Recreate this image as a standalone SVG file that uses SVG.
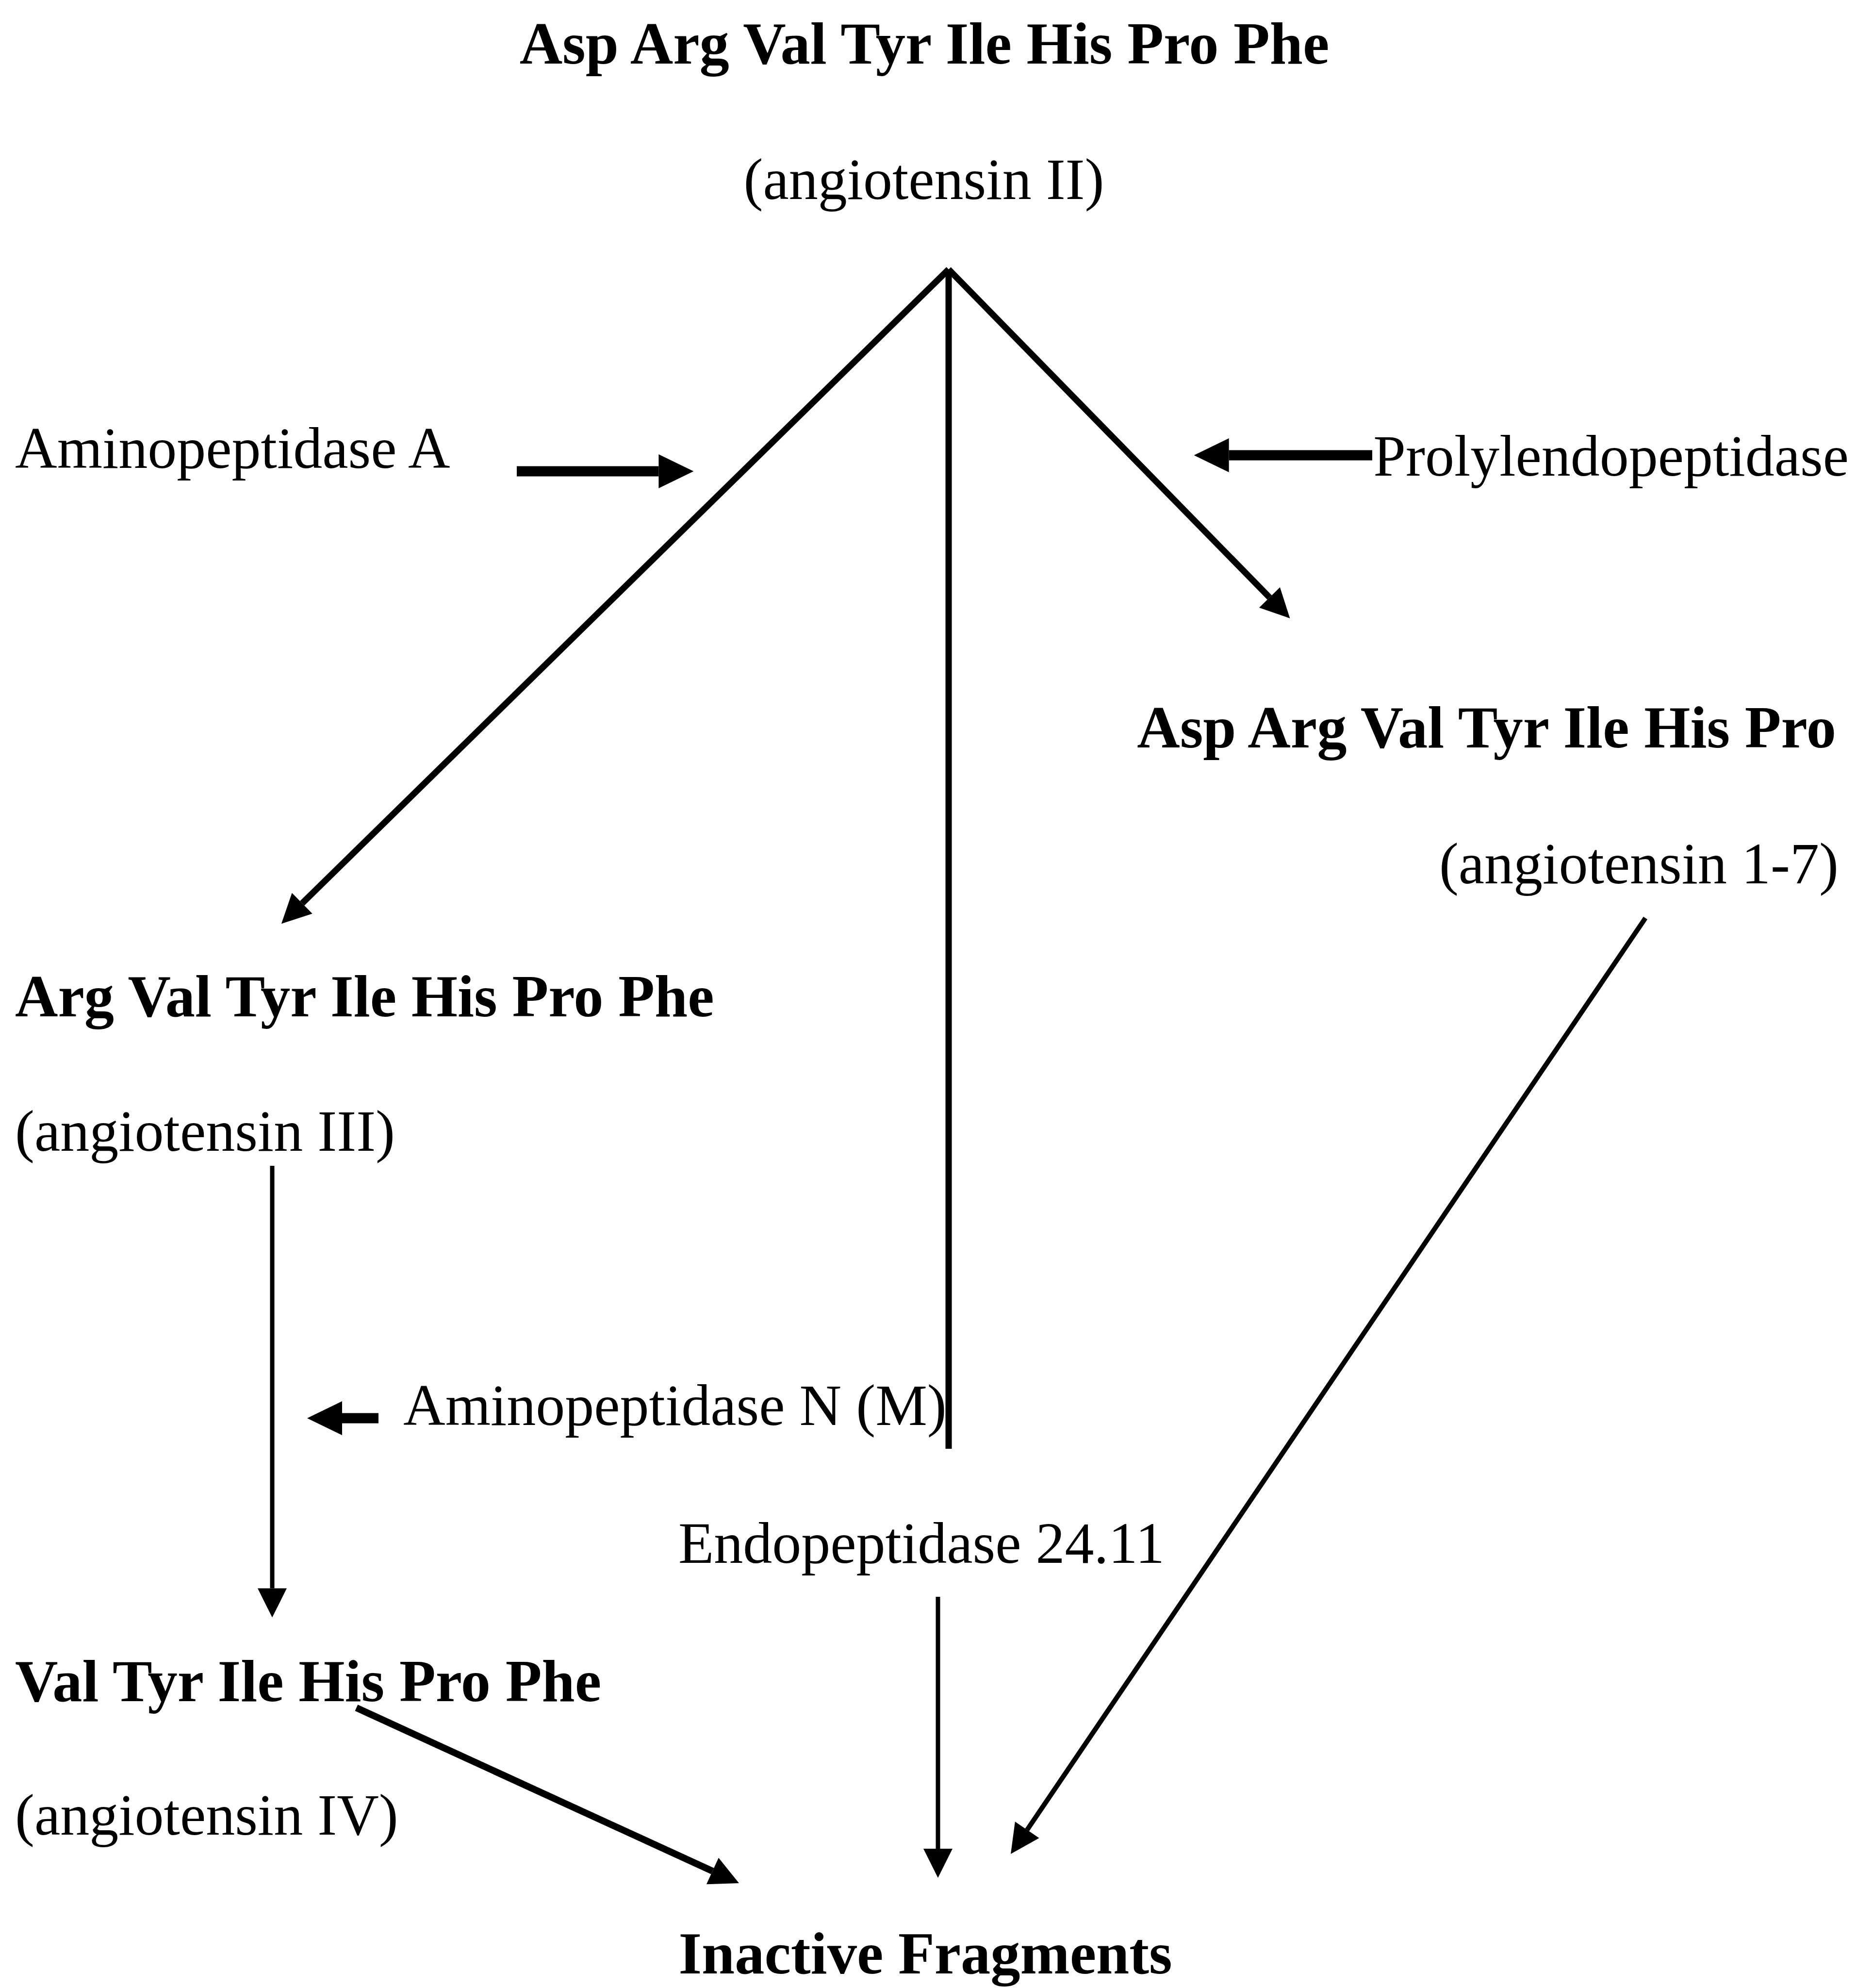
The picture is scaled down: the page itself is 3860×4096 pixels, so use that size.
<svg xmlns="http://www.w3.org/2000/svg" width="3860" height="4096" viewBox="0 0 3860 4096">
<style>
  text { font-family: "Liberation Serif", "Times New Roman", serif; font-size: 120px; fill: #000; }
  .b { font-weight: bold; font-size: 122.5px; }
  .ln { stroke: #000; fill: none; stroke-linecap: butt; }
  .thin { stroke-width: 9; }
  .mid { stroke-width: 13; }
  .thick { stroke-width: 21; }
</style>
<defs>
  <marker id="head" markerUnits="userSpaceOnUse" viewBox="0 -30 60 60" refX="0" refY="0" markerWidth="60" markerHeight="60" orient="auto" overflow="visible">
    <path d="M0,-30 L60,0 L0,30 Z" fill="#000"/>
  </marker>
  <marker id="headBig" markerUnits="userSpaceOnUse" viewBox="0 -35 72 70" refX="0" refY="0" markerWidth="72" markerHeight="70" orient="auto" overflow="visible">
    <path d="M0,-35 L72,0 L0,35 Z" fill="#000"/>
  </marker>
</defs>
<rect width="3860" height="4096" fill="#fff"/>

<g id="connectors">
  <!-- from angiotensin II apex -->
  <line class="ln mid" x1="1955" y1="555" x2="622.7" y2="1861.2" marker-end="url(#head)"/>
  <line class="ln mid" x1="1955" y1="555" x2="1955" y2="2985"/>
  <line class="ln mid" x1="1955" y1="555" x2="2616.4" y2="1231" marker-end="url(#head)"/>
  <!-- enzyme arrows -->
  <line class="ln thick" x1="1065" y1="971" x2="1357.4" y2="971" marker-end="url(#headBig)"/>
  <line class="ln thick" x1="2828" y1="938" x2="2532.6" y2="938" marker-end="url(#headBig)"/>
  <line class="ln thick" x1="780" y1="2922" x2="705" y2="2922" marker-end="url(#headBig)"/>
  <!-- angiotensin III to IV -->
  <line class="ln thin" x1="561" y1="2402" x2="561" y2="3272.6" marker-end="url(#head)"/>
  <!-- to inactive fragments -->
  <line class="ln thin" x1="1933" y1="3290" x2="1933" y2="3809" marker-end="url(#head)"/>
  <line class="ln" stroke-width="14" x1="734.5" y1="3518.7" x2="1468.4" y2="3855.1" marker-end="url(#head)"/>
  <line class="ln" stroke-width="10" x1="3391" y1="1891.5" x2="2116.7" y2="3770.2" marker-end="url(#head)"/>
</g>

<g id="angiotensin-II">
  <text class="b" x="1905" y="131" text-anchor="middle">Asp Arg Val Tyr Ile His Pro Phe</text>
  <text x="1904" y="410" text-anchor="middle">(angiotensin II)</text>
</g>
<g id="aminopeptidase-A">
  <text x="31" y="964">Aminopeptidase A</text>
</g>
<g id="prolylendopeptidase">
  <text x="3810" y="980" text-anchor="end">Prolylendopeptidase</text>
</g>
<g id="angiotensin-1-7">
  <text class="b" x="3784" y="1540" text-anchor="end">Asp Arg Val Tyr Ile His Pro</text>
  <text x="3789" y="1820" text-anchor="end">(angiotensin 1-7)</text>
</g>
<g id="angiotensin-III">
  <text class="b" x="31" y="2094">Arg Val Tyr Ile His Pro Phe</text>
  <text x="31" y="2371">(angiotensin III)</text>
</g>
<g id="aminopeptidase-N">
  <text x="831" y="2936">Aminopeptidase N (M)</text>
</g>
<g id="endopeptidase">
  <text x="1899" y="3220" text-anchor="middle">Endopeptidase 24.11</text>
</g>
<g id="angiotensin-IV">
  <text class="b" x="31" y="3505">Val Tyr Ile His Pro Phe</text>
  <text x="31" y="3780">(angiotensin IV)</text>
</g>
<g id="inactive-fragments">
  <text class="b" x="1907" y="4066" text-anchor="middle">Inactive Fragments</text>
</g>
</svg>
